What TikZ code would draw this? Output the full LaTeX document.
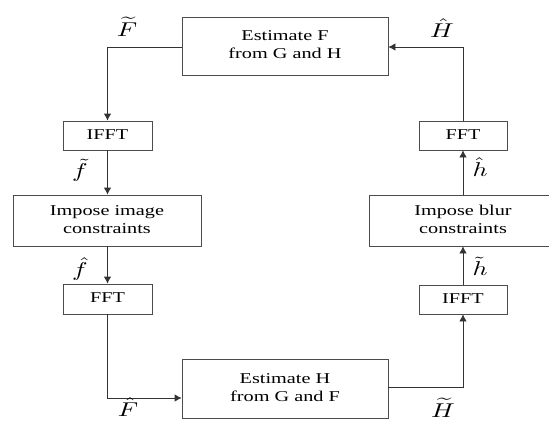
\documentclass[tikz,border=0pt]{standalone}
\usepackage{fontspec}
\setmainfont{Liberation Serif}
\usetikzlibrary{arrows.meta}
\newcommand\stretchtxt[1]{\scalebox{1.35}[1]{#1}}
\newcommand\blocktext[1]{\stretchtxt{\fontsize{15}{18}\selectfont\begin{tabular}{@{}c@{}}#1\end{tabular}}}
\newcommand\sigtext[1]{\scalebox{2.6}[2.0]{$#1$}}
\begin{document}
\begin{tikzpicture}[x=1pt,y=-1pt,
  block/.style={draw=black!70,line width=0.8pt,inner sep=0pt,minimum width=#1},
  arr/.style={draw=black!80,line width=0.8pt,-{Latex[length=7pt,width=7.5pt]}},
  sig/.style={inner sep=0pt}]
\useasboundingbox (0,0) rectangle (549,423);
% processing blocks
\node[block=206pt,minimum height=58pt] (estF) at (285,46) {\blocktext{Estimate F\\from G and H}};
\node[block=89pt,minimum height=29pt] (ifftL) at (107.5,135.5) {\blocktext{IFFT}};
\node[block=188pt,minimum height=51pt] (impImg) at (107,220.5) {\blocktext{Impose image\\constraints}};
\node[block=89pt,minimum height=30pt] (fftL) at (107.5,299) {\blocktext{FFT}};
\node[block=206pt,minimum height=59pt] (estH) at (285,388.5) {\blocktext{Estimate H\\from G and F}};
\node[block=88pt,minimum height=29pt] (ifftR) at (463,299.5) {\blocktext{IFFT}};
\node[block=188pt,minimum height=51pt] (blur) at (463,220.5) {\blocktext{Impose blur\\constraints}};
\node[block=88pt,minimum height=29pt] (fftR) at (463,135.5) {\blocktext{FFT}};
% signal flow
\draw[arr] ([yshift=-1pt]estF.west) -| (ifftL.north);
\draw[arr] (ifftL.south) -- (ifftL.south |- impImg.north);
\draw[arr] (fftL.north |- impImg.south) -- (fftL.north);
\draw[arr] (fftL.south) |- ([yshift=-9.5pt]estH.west);
\draw[arr] ([yshift=1.5pt]estH.east) -| (ifftR.south);
\draw[arr] (ifftR.north) -- (ifftR.north |- blur.south);
\draw[arr] (fftR.south |- blur.north) -- (fftR.south);
\draw[arr] (fftR.north) |- ([yshift=-1pt]estF.east);
% signal labels
\node[sig] (Ft) at (127,27) {\sigtext{\widetilde{F}}};
\node[sig] (ft) at (80,170) {\sigtext{\tilde{f}}};
\node[sig] (fh) at (80,269) {\sigtext{\hat{f}}};
\node[sig] (Fh) at (128,407) {\sigtext{\hat{F}}};
\node[sig] (Hh) at (442,28) {\sigtext{\hat{H}}};
\node[sig] (hh) at (480,167) {\sigtext{\hat{h}}};
\node[sig] (ht) at (480,266) {\sigtext{\tilde{h}}};
\node[sig] (Ht) at (443,408) {\sigtext{\widetilde{H}}};
\end{tikzpicture}
\end{document}
